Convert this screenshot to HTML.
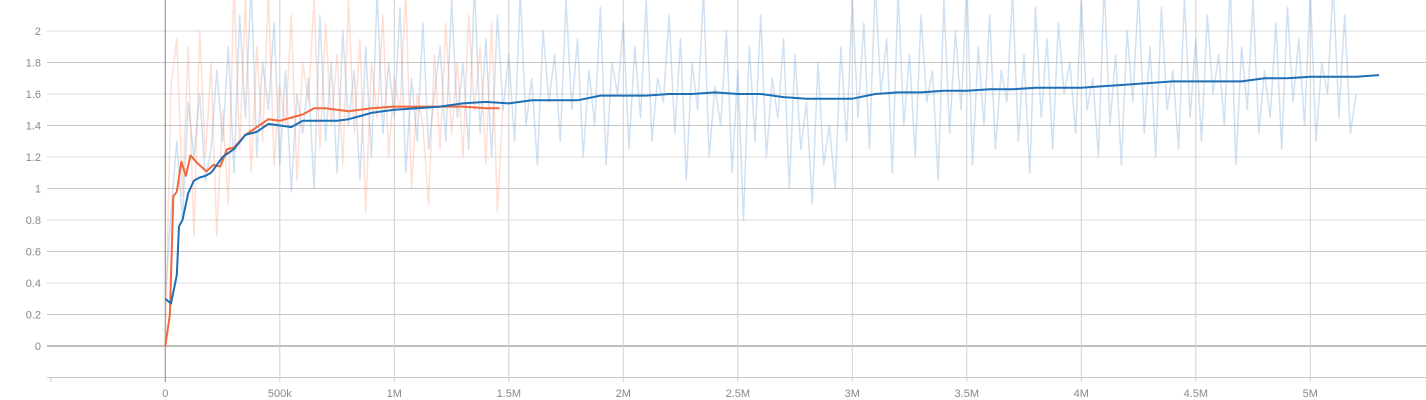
<!DOCTYPE html>
<html><head><meta charset="utf-8">
<style>
html,body{margin:0;padding:0;background:#fff;}
svg{display:block;font-family:"Liberation Sans",sans-serif;}
</style></head>
<body>
<svg id="chart" width="1426" height="400"></svg>
<script>
const yTicks = [0,0.2,0.4,0.6,0.8,1,1.2,1.4,1.6,1.8,2];
const xTicks = [0,500000,1000000,1500000,2000000,2500000,3000000,3500000,4000000,4500000,5000000];
const xTickLabels = ["0","500k","1M","1.5M","2M","2.5M","3M","3.5M","4M","4.5M","5M"];

const blueSmoothX = [0,25,50,60,75,100,125,150,175,200,250,300,350,400,450,500,550,600,650,700,750,800,850,900,950,1000,1100,1200,1300,1400,1500,1600,1700,1800,1900,2000,2100,2200,2300,2400,2500,2600,2700,2800,2900,3000,3100,3200,3300,3400,3500,3600,3700,3800,3900,4000,4100,4200,4300,4400,4500,4600,4700,4800,4900,5000,5100,5200,5300];
const blueSmoothY = [0.30,0.27,0.45,0.76,0.80,0.97,1.05,1.07,1.08,1.10,1.20,1.25,1.34,1.36,1.41,1.40,1.39,1.43,1.43,1.43,1.43,1.44,1.46,1.48,1.49,1.50,1.51,1.52,1.54,1.55,1.54,1.56,1.56,1.56,1.59,1.59,1.59,1.60,1.60,1.61,1.60,1.60,1.58,1.57,1.57,1.57,1.60,1.61,1.61,1.62,1.62,1.63,1.63,1.64,1.64,1.64,1.65,1.66,1.67,1.68,1.68,1.68,1.68,1.70,1.70,1.71,1.71,1.71,1.72];

const orangeSmoothX = [0,20,35,50,70,90,110,140,180,210,240,270,300,350,400,450,500,550,600,650,700,800,900,1000,1100,1200,1300,1400,1460];
const orangeSmoothY = [0,0.20,0.95,0.98,1.17,1.08,1.21,1.16,1.11,1.15,1.14,1.25,1.26,1.34,1.39,1.44,1.43,1.45,1.47,1.51,1.51,1.49,1.51,1.52,1.52,1.52,1.52,1.51,1.51];

// raw values every 25k steps
const blueRaw = [0.30,0.85,1.30,0.80,1.55,1.20,1.60,1.05,1.25,1.75,1.30,1.90,1.10,2.10,1.45,2.30,1.20,1.80,1.50,2.05,1.15,1.75,0.98,1.60,1.35,1.70,1.00,2.10,1.30,1.80,1.10,2.00,1.40,1.75,1.05,1.90,1.20,2.25,1.35,1.80,1.45,2.15,1.10,1.70,1.30,2.05,1.25,1.60,1.90,1.30,2.20,1.45,1.80,1.25,2.30,1.35,1.95,1.20,2.10,1.50,1.85,1.30,2.25,1.40,1.70,1.15,2.00,1.55,1.85,1.30,2.20,1.50,1.95,1.20,1.75,1.40,2.15,1.15,1.80,1.60,2.05,1.25,1.90,1.45,2.20,1.30,1.70,1.55,2.10,1.35,1.95,1.05,1.80,1.50,2.25,1.20,1.65,1.40,2.00,1.10,1.75,0.80,1.90,1.30,2.10,1.20,1.70,1.45,1.95,1.00,1.85,1.25,1.55,0.90,1.80,1.15,1.40,1.00,1.90,1.30,2.20,1.45,2.05,1.25,2.30,1.60,1.95,1.10,2.25,1.40,1.85,1.20,2.10,1.55,1.75,1.05,2.20,1.35,2.00,1.50,2.30,1.15,1.90,1.40,2.10,1.25,1.75,1.55,2.25,1.30,1.85,1.10,2.15,1.45,1.95,1.25,2.05,1.60,1.80,1.35,2.20,1.50,1.70,1.20,2.30,1.40,1.85,1.15,2.00,1.55,2.25,1.35,1.90,1.20,2.15,1.50,1.75,1.25,2.20,1.45,1.95,1.30,2.10,1.60,1.85,1.40,2.30,1.15,1.90,1.50,2.20,1.35,1.75,1.45,2.05,1.25,2.15,1.55,1.95,1.40,2.25,1.30,1.80,1.60,2.30,1.45,2.10,1.35,1.60];
const orangeRaw = [0,1.65,1.95,0.95,1.90,0.70,2.00,1.20,1.80,0.70,1.50,0.90,2.30,1.25,2.20,1.10,1.90,1.30,2.25,1.15,1.65,1.40,2.10,1.05,1.80,1.55,2.20,1.25,2.05,1.40,1.85,1.15,2.20,1.35,1.95,0.85,1.80,1.45,2.10,1.20,1.70,1.50,2.25,1.00,1.60,1.40,0.90,1.85,1.25,2.05,1.35,1.80,1.20,2.10,1.50,1.90,1.15,2.05,0.85,1.55];

const svgNS = "http://www.w3.org/2000/svg";
const svg = document.getElementById('chart');
const X0 = 165.3, PXM = 229.0;      // px per 1M
const Y0 = 346, PYU = 157.5;        // px per unit
const xs = v => X0 + v / 1e6 * PXM;
const ys = v => Y0 - v * PYU;
const L = 51, R = 1426, B = 378;

function mk(tag, attrs){const e=document.createElementNS(svgNS,tag);for(const k in attrs)e.setAttribute(k,attrs[k]);svg.appendChild(e);return e;}

// clip
const defs = mk('defs',{});
const cp = document.createElementNS(svgNS,'clipPath'); cp.setAttribute('id','plotclip');
const cr = document.createElementNS(svgNS,'rect'); cr.setAttribute('x',L);cr.setAttribute('y',0);cr.setAttribute('width',R-L);cr.setAttribute('height',B);
cp.appendChild(cr); defs.appendChild(cp);

// horizontal grid incl. -0.2 bottom line
[-0.2,...yTicks].forEach((t,i)=>{
  const y = ys(t);
  const g = mk('line',{x1:47,x2:R,y1:y,y2:y,stroke:(t===0)?'#999':(Math.round(t*10)%4===0?'#dcdcdc':'#c8c8c8'),'stroke-width':(t===0)?1.2:1});
  
  
  if(t>-0.1){
    const tx = mk('text',{x:41,y:y+4,'text-anchor':'end','font-size':11,fill:'#888'});
    tx.textContent = String(t);
    
    
  }
});
// vertical grid
const lg = mk('line',{x1:L,x2:L,y1:B,y2:B+4,stroke:'#ccc'});


xTicks.forEach((t,i)=>{
  const x = xs(t);
  const g = mk('line',{x1:x,x2:x,y1:0,y2:B+4,stroke:(t===0)?'#999':'#d0d0d0','stroke-width':(t===0)?1.2:1});
  
  
  const tx = mk('text',{x:x,y:397,'text-anchor':'middle','font-size':11,fill:'#888'});
  tx.textContent = xTickLabels[i];
  
  
});

function path(xv, yv, stride, color, width, name){
  let d='';
  for(let i=0;i<yv.length;i++){
    const x = stride ? xs(i*stride) : xs(xv[i]*1000);
    d += (i?'L':'M') + x.toFixed(1) + ',' + ys(yv[i]).toFixed(1);
  }
  const p = mk('path',{d:d,fill:'none',stroke:color,'stroke-width':width,'stroke-linejoin':'round','clip-path':'url(#plotclip)'});
  
  
}
path(null, blueRaw, 25000, 'rgba(120,170,215,0.35)', 1.5, 'blue-raw-line');
path(null, orangeRaw, 25000, 'rgba(255,140,105,0.28)', 1.5, 'orange-raw-line');
path(orangeSmoothX, orangeSmoothY, 0, '#f2683c', 2, 'orange-smoothed-line');
path(blueSmoothX, blueSmoothY, 0, '#1f6fb5', 2, 'blue-smoothed-line');
</script>
</body></html>
